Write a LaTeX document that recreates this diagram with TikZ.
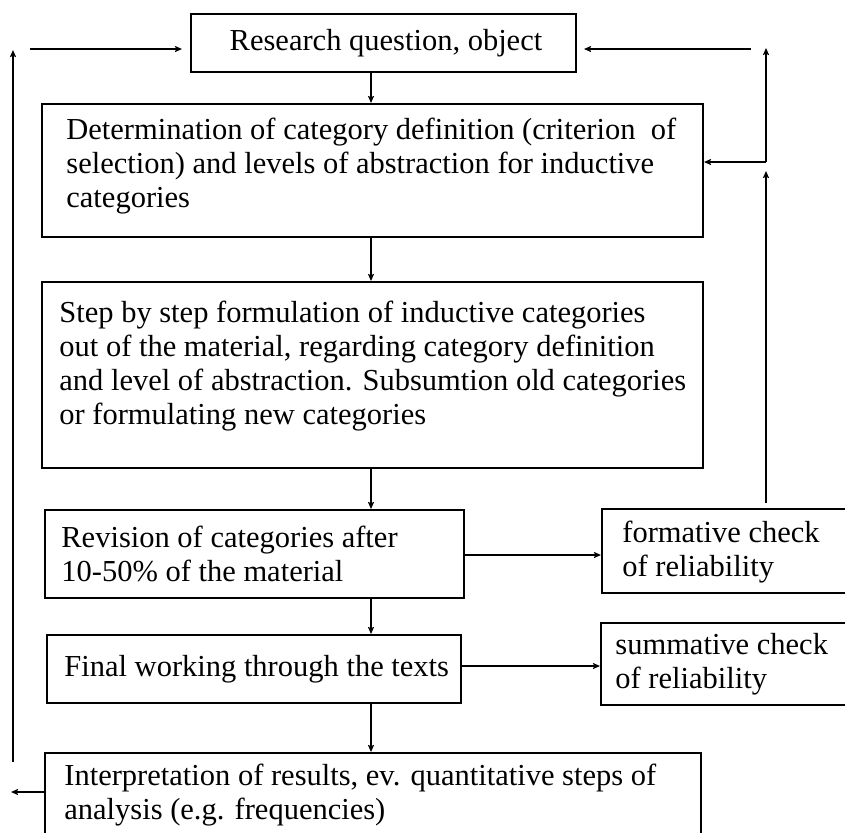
\documentclass[tikz,border=0pt]{standalone}
\usepackage{fontspec}
\setmainfont{Liberation Serif}
\usetikzlibrary{arrows.meta,fit}
\tikzset{
  box/.style={draw, line width=1pt, inner sep=0pt},
  txt/.style={inner sep=0pt, align=left, anchor=west, font=\fontsize{15.25pt}{17pt}\selectfont},
  arr/.style={line width=1pt, -{Stealth[length=3.5pt,width=3pt,inset=0.6pt]}},
}
\begin{document}
\begin{tikzpicture}[x=0.5pt,y=-0.5pt]
\useasboundingbox (0,0) rectangle (845,832);
\fill[white] (0,0) rectangle (845,832);
\clip (0,0) rectangle (845,832);
% boxes
\node[box, fit={(191,14) (576,72)}] (top) {};
\node[box, fit={(42,104) (703,237)}] (b2) {};
\node[box, fit={(42,282) (703,468)}] (b3) {};
\node[box, fit={(45,510) (464,598)}] (b4) {};
\node[box, fit={(602,509) (900,593)}] (form) {};
\node[box, fit={(47,635) (461,703)}] (b5) {};
\node[box, fit={(601,623) (900,705)}] (summ) {};
\node[box, fit={(45,753) (701,900)}] (b6) {};
% texts
\node[txt, anchor=center] (ttop) at (386,43) {Research question, object};
\node[txt] (t2) at (66,166) {Determination of category definition (criterion~ of\\selection) and levels of abstraction for inductive\\categories};
\node[txt] (t3) at (59,366) {Step by step formulation of inductive categories\\out of the material, regarding category definition\\and level of abstraction. Subsumtion old categories\\or formulating new categories};
\node[txt] (t4) at (61,554) {Revision of categories after\\10-50\% of the material};
\node[txt] (tform) at (622,552) {formative check\\of reliability};
\node[txt] (t5) at (64,669) {Final working through the texts};
\node[txt] (tsumm) at (615,664) {summative check\\of reliability};
\node[txt] (t6) at (64,795) {Interpretation of results, ev. quantitative steps of\\analysis (e.g. frequencies)};
% helper coordinates
\coordinate (cx) at (371,0);
\coordinate (y555) at (0,555);
\coordinate (y666) at (0,666);
\coordinate (fr) at (766,503);
\coordinate (r2) at (766,171);
\coordinate (rj) at (766,162);
\coordinate (rtop) at (766,48);
\coordinate (rs) at (751,49);
\coordinate (lb) at (13,762);
\coordinate (lt) at (13,50);
\coordinate (ls) at (30,49);
\coordinate (lo) at (11,792);
% main flow
\draw[arr] (top.south -| cx) -- (b2.north -| cx);
\draw[arr] (b2.south -| cx) -- (b3.north -| cx);
\draw[arr] (b3.south -| cx) -- (b4.north -| cx);
\draw[arr] (b4.south -| cx) -- (b5.north -| cx);
\draw[arr] (b5.south -| cx) -- (b6.north -| cx);
\draw[arr] (b4.east |- y555) -- (form.west |- y555);
\draw[arr] (b5.east |- y666) -- (summ.west |- y666);
% right feedback
\draw[arr] (fr) -- (r2);
\draw[arr] (rj) -- (b2.east |- rj);
\draw[arr] (rj) -- (rtop);
\draw[arr, shorten >=3.5pt] (rs) -- (top.east |- rs);
% left feedback
\draw[arr] (lb) -- (lt);
\draw[arr, shorten >=4pt] (ls) -- (top.west |- ls);
\draw[arr] (b6.west |- lo) -- (lo);
\end{tikzpicture}
\end{document}
